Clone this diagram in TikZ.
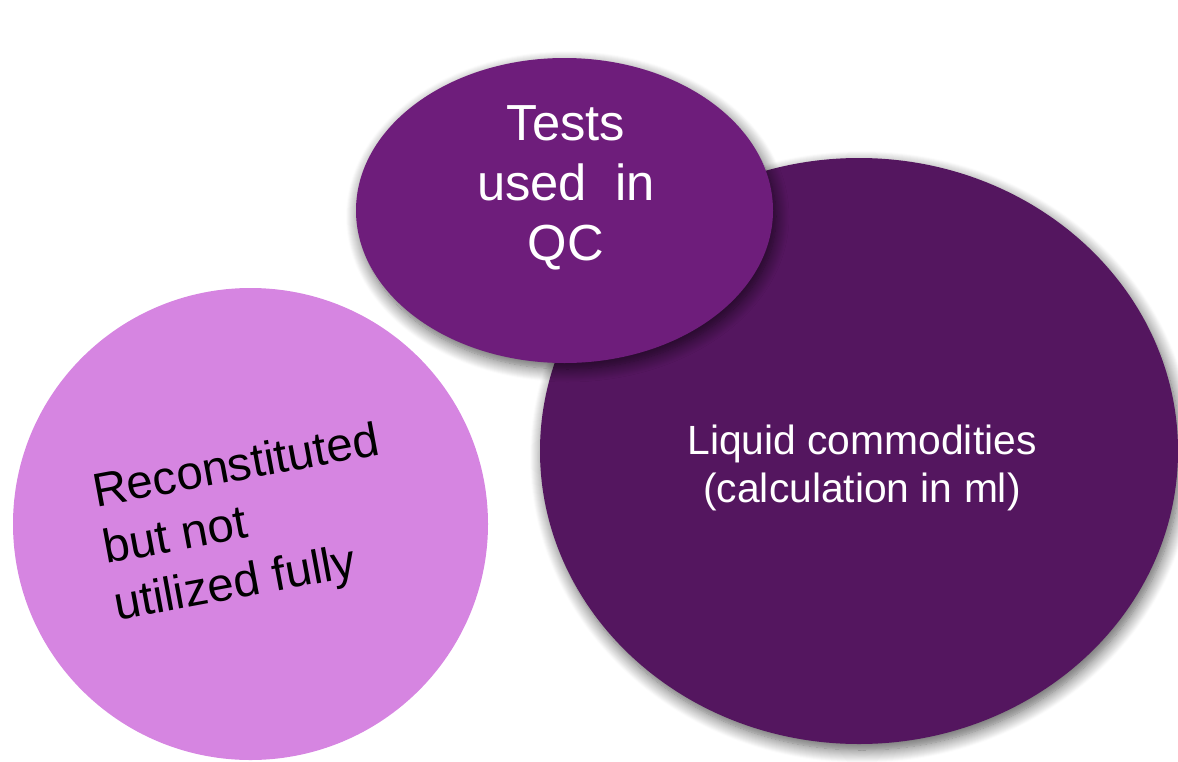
\documentclass[tikz,border=0pt]{standalone}
\usepackage{fontspec}
\setmainfont{Liberation Sans}
\usetikzlibrary{shapes.geometric,shadows.blur}
\definecolor{plumdark}{HTML}{54165F}
\definecolor{plummid}{HTML}{6E1D7B}
\definecolor{orchid}{HTML}{D685E1}

\begin{document}
\begin{tikzpicture}[x=1pt, y=-1pt,
  bubble/.style = {ellipse, inner sep=0pt, draw=none},
  shade/.style = {blur shadow={shadow xshift=3pt, shadow yshift=-6pt, shadow blur radius=13pt, shadow blur steps=14, shadow opacity=65}},
  txt/.style = {inner sep=0pt, align=center, text=white}]
\useasboundingbox (0,0) rectangle (1178,761);

\node[bubble, shade, fill=plumdark, minimum width=638pt, minimum height=586pt] (liquid) at (859,451) {};
\node[bubble, shade, fill=plummid, minimum width=417pt, minimum height=305pt] (tests) at (564.5,210.5) {};
\node[bubble, fill=orchid, minimum width=475pt, minimum height=472pt] (recon) at (250.5,524) {};

\node[txt, font=\fontsize{50.7}{60}\selectfont] (testsText) at (566,187.5) {Tests\\used~~in\\QC};
\node[txt, font=\fontsize{40.8}{48}\selectfont] (liquidText) at (862,468) {Liquid commodities\\(calculation in ml)};
\node[txt, text=black, align=left, rotate=10.5, font=\fontsize{47.4}{57.7}\selectfont] (reconText) at (247,525.4) {Reconstituted\\but not\\utilized fully};
\end{tikzpicture}
\end{document}
